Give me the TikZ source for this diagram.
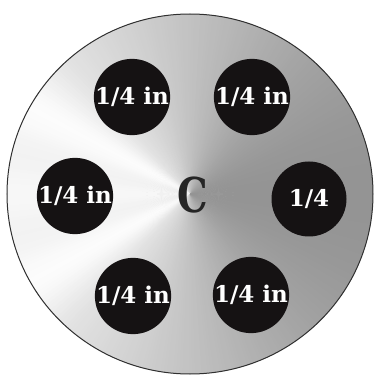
\documentclass[tikz,border=0pt]{standalone}
\usepackage{fontspec}
\setmainfont{DejaVu Serif}
\begin{document}
\begin{tikzpicture}[x=1pt,y=1pt,
  hole/.style={circle,fill=holeblack,minimum size=75pt,inner sep=0pt,text=white,
    font=\fontsize{23}{23}\selectfont\bfseries},
  rim/.style={draw=rimgray,line width=1pt}]
\definecolor{holeblack}{HTML}{151213}
\definecolor{rimgray}{HTML}{303030}
\useasboundingbox[fill=white] (0,0) rectangle (376,376);
\coordinate (ctr) at (190,182);
\begin{scope}
  \clip (ctr) ellipse [x radius=183, y radius=180];
  \fill[black!22] (ctr) ellipse [x radius=183, y radius=180];
  \foreach \a in {0,1,...,359}{
    \pgfmathsetmacro\g{min(1,0.76-0.18*cos(\a)+0.07*exp(-((\a-150)/12)^2)+0.07*exp(-((\a-210)/12)^2)+0.03*exp(-((\a-180)/10)^2))}
    \definecolor{wc}{gray}{\g}
    \fill[wc] (ctr) -- +(\a-0.3:200) -- +(\a+1.3:200) -- cycle;
  }
\end{scope}
\draw[rim] (ctr) ellipse [x radius=183, y radius=180];
\node[hole] (tl) at (132,279) {1/4 in};
\node[hole] (tr) at (252,279) {1/4 in};
\node[hole] (l) at (75,180) {1/4 in};
\node[hole] (r) at (309,177) {1/4};
\node[hole] (bl) at (133,80) {1/4 in};
\node[hole] (br) at (251,81) {1/4 in};
\node[text=black!85,font=\fontsize{48}{48}\selectfont\bfseries,xscale=0.8] (c) at (193,181) {C};
\end{tikzpicture}
\end{document}
